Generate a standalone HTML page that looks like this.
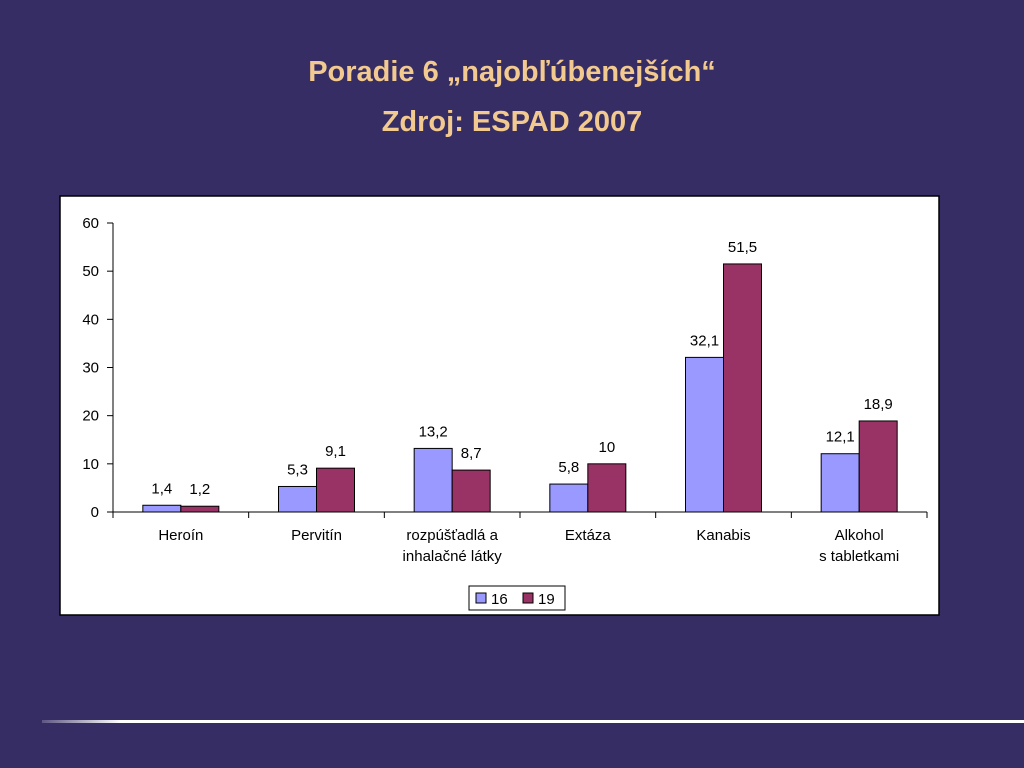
<!DOCTYPE html>
<html><head><meta charset="utf-8"><style>
html,body{margin:0;padding:0;background:#372d65;}
svg{display:block;font-family:"Liberation Sans",sans-serif;}
</style></head><body>
<svg width="1024" height="768" viewBox="0 0 1024 768">
<defs><linearGradient id="lg" x1="0" x2="1"><stop offset="0" stop-color="#fff" stop-opacity="0.2"/><stop offset="0.08" stop-color="#fff"/><stop offset="1" stop-color="#fff"/></linearGradient></defs>
<rect width="1024" height="768" fill="#372d65"/>
<text x="512" y="81" text-anchor="middle" font-size="29" font-weight="bold" fill="#f2c98f">Poradie 6 „najobľúbenejších“</text>
<text x="512" y="131" text-anchor="middle" font-size="29" font-weight="bold" fill="#f2c98f">Zdroj: ESPAD 2007</text>
<rect x="42" y="720" width="982" height="3" fill="url(#lg)"/>
<rect x="60" y="196" width="879" height="419" fill="#fff" stroke="#000" stroke-width="1.5"/>
<g id="chart"></g>
<g>
<rect x="469" y="586" width="96" height="24" fill="#fff" stroke="#000"/>
<rect x="476" y="593" width="10" height="10" fill="#9999ff" stroke="#000"/>
<text x="491" y="604" font-size="15">16</text>
<rect x="523" y="593" width="10" height="10" fill="#993366" stroke="#000"/>
<text x="538" y="604" font-size="15">19</text>
</g>
</svg>
<script>
const categories=[["Heroín"],["Pervitín"],["rozpúšťadlá a","inhalačné látky"],["Extáza"],["Kanabis"],["Alkohol","s tabletkami"]];
const series16=[1.4,5.3,13.2,5.8,32.1,12.1];
const series19=[1.2,9.1,8.7,10,51.5,18.9];
const labels16=["1,4","5,3","13,2","5,8","32,1","12,1"];
const labels19=["1,2","9,1","8,7","10","51,5","18,9"];
const yTicks=[0,10,20,30,40,50,60];
const NS="http://www.w3.org/2000/svg";
const g=document.getElementById('chart');
const x0=113,x1=927,y0=512,y60=223;
const y=v=>y0-(v/60)*(y0-y60);
const band=(x1-x0)/categories.length;
const cx=i=>x0+band*(i+0.5);
function mk(tag,attrs){const e=document.createElementNS(NS,tag);for(const k in attrs)e.setAttribute(k,attrs[k]);g.appendChild(e);return e;}
let e=mk('line',{x1:x0,y1:y60,x2:x0,y2:y0,stroke:'#000'});


e=mk('line',{x1:x0,y1:y0,x2:x1,y2:y0,stroke:'#000'});


yTicks.forEach(t=>{
 let l=mk('line',{x1:x0-6,x2:x0,y1:y(t),y2:y(t),stroke:'#000'});
 
 
 let tx=mk('text',{x:x0-14,y:y(t)+5,'text-anchor':'end','font-size':15});
 tx.textContent=t;
 
 
});
for(let i=0;i<=categories.length;i++){
 let l=mk('line',{x1:x0+band*i,x2:x0+band*i,y1:y0,y2:y0+6,stroke:'#000'});
 
 
}
const bw=38;
categories.forEach((c,i)=>{
 const c0=cx(i);
 let b=mk('rect',{x:c0-bw,y:y(series16[i]),width:bw,height:y0-y(series16[i]),fill:'#9999ff',stroke:'#000'});
 
 
 let b2=mk('rect',{x:c0,y:y(series19[i]),width:bw,height:y0-y(series19[i]),fill:'#993366',stroke:'#000'});
 
 
 let t1=mk('text',{x:c0-bw/2,y:y(series16[i])-12,'text-anchor':'middle','font-size':15});
 t1.textContent=labels16[i];
 
 
 let t2=mk('text',{x:c0+bw/2,y:y(series19[i])-12,'text-anchor':'middle','font-size':15});
 t2.textContent=labels19[i];
 
 
 c.forEach((line,j)=>{
  let t=mk('text',{x:c0,y:540+j*21,'text-anchor':'middle','font-size':15});
  t.textContent=line;
  
  
 });
});
</script>
</body></html>
